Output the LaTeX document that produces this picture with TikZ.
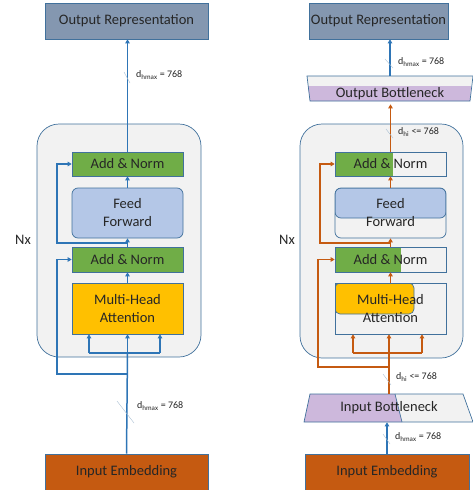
\documentclass[tikz,border=0pt]{standalone}
\usepackage{fontspec}
\setmainfont{Carlito}
\usetikzlibrary{arrows.meta}

\definecolor{edgeblue}{HTML}{41719C}
\definecolor{repblue}{HTML}{8497B0}
\definecolor{addgreen}{HTML}{70AD47}
\definecolor{ffblue}{HTML}{B4C7E7}
\definecolor{attyellow}{HTML}{FFC000}
\definecolor{embrown}{HTML}{C55A11}
\definecolor{bnpurple}{HTML}{CDB8DC}
\definecolor{paleg}{HTML}{F2F2F2}
\definecolor{flowblue}{HTML}{2E75B6}
\definecolor{floworange}{HTML}{C55A11}

\begin{document}
\begin{tikzpicture}[x=1pt, y=-1pt,
    box/.style={draw=edgeblue, line width=0.7pt, minimum width=111pt, inner sep=0pt, align=center, text=black!85, font=\fontsize{14.5}{18}\selectfont},
    wide/.style={box, minimum height=36pt},
    frame/.style={draw=edgeblue, line width=0.7pt, fill=paleg, rounded corners=22pt},
    bneck/.style={draw=edgeblue, line width=0.7pt},
    bline/.style={draw=flowblue, line width=1.5pt},
    oline/.style={draw=floworange, line width=1.5pt},
    tip/.style={-{Triangle[length=4pt,width=4.5pt]}},
    slash/.style={draw=edgeblue!45, line width=0.4pt},
    dim/.style={anchor=west, inner sep=0pt, text=black!85, font=\fontsize{10}{12}\selectfont},
    nx/.style={text=black!85, font=\fontsize{14.5}{18}\selectfont}]

        \useasboundingbox (0,0) rectangle (472,490);

        % left: full size encoder
        \draw[frame] (37,124) rectangle (201,357);
        \node[nx] (nxL) at (23,240) {Nx};

        \node[wide, fill=repblue, minimum width=163pt] (outL) at (126.5,21) {Output Representation};
        \node[box, fill=addgreen, minimum height=24pt] (addL1) at (127.5,164) {Add \& Norm};
        \node[box, fill=ffblue, minimum height=50pt, rounded corners=6pt] (ffL) at (127.5,213) {Feed\\Forward};
        \node[box, fill=addgreen, minimum height=25pt] (addL2) at (127.5,259.5) {Add \& Norm};
        \node[box, fill=attyellow, minimum height=51pt] (mhaL) at (127.5,308.5) {Multi-Head\\Attention};
        \node[wide, fill=embrown, minimum width=163pt] (inL) at (126.5,472) {Input Embedding};

        \coordinate (jL) at (127.5,353);
        \coordinate (qL) at (89,353);
        \coordinate (kL) at (160,353);
        \coordinate (rL1) at (127.5,243);
        \coordinate (rL2) at (127.5,374);

        \draw[bline] (inL.north) -- (jL);
        \draw[bline] (qL) -- (kL);
        \draw[bline,tip] (jL) -- (mhaL.south);
        \draw[bline,tip] (qL) -- (qL |- mhaL.south);
        \draw[bline,tip] (kL) -- (kL |- mhaL.south);
        \draw[bline,tip] (rL2) -- ++(-70.5,0) |- (addL2.west);
        \draw[bline,tip] (mhaL.north) -- (addL2.south);
        \draw[bline,tip] (addL2.north) -- (ffL.south);
        \draw[bline,tip] (rL1) -- ++(-70.5,0) |- (addL1.west);
        \draw[bline,tip] (ffL.north) -- (addL1.south);
        \draw[bline,tip] (addL1.north) -- (addL1.north |- outL.south);

        \draw[slash] (124,72) -- (130,83);
        \node[dim] (dL1) at (136,75) {d\textsubscript{hmax} = 768};
        \draw[slash] (117,401) -- (134,423);
        \node[dim] (dL2) at (137,406) {d\textsubscript{hmax} = 768};

        % right: encoder with bottlenecks
        \draw[frame] (300,124) rectangle (463,358);
        \node[nx] (nxR) at (287,240) {Nx};

        \node[wide, fill=repblue, minimum width=139pt] (outR) at (378.5,21) {Output Representation};

        \fill[paleg] (307,76) -- (472,76) -- (470,101) -- (310,101) -- cycle;
        \fill[bnpurple] (308,86) -- (471,86) -- (470,101) -- (310,101) -- cycle;
        \draw[bneck] (307,76) -- (473,76) -- (470,101) -- (310,101) -- cycle;
        \node[box, draw=none, minimum height=15pt] (obR) at (390,93.5) {Output Bottleneck};
        \coordinate (obtop) at (390,76);

        \node[box, fill=paleg, minimum height=24pt,
            path picture={\fill[addgreen] (path picture bounding box.south west) rectangle ([xshift=58pt]path picture bounding box.north west);}]
            (addR1) at (390.5,164) {Add \& Norm};
        \node[box, fill=paleg, minimum height=50pt, rounded corners=6pt,
            path picture={\draw[draw=edgeblue, line width=0.7pt, fill=ffblue, rounded corners=6pt] (path picture bounding box.north west) rectangle ([yshift=-30pt]path picture bounding box.north east);}]
            (ffR) at (390.5,213) {Feed\\Forward};
        \node[box, fill=paleg, minimum height=25pt,
            path picture={\fill[addgreen] (path picture bounding box.south west) rectangle ([xshift=66pt]path picture bounding box.north west);}]
            (addR2) at (390.5,259.5) {Add \& Norm};
        \node[box, fill=paleg, minimum height=51pt,
            path picture={\draw[draw=edgeblue, line width=0.7pt, fill=attyellow, rounded corners=5pt] (path picture bounding box.north west) rectangle ([xshift=79pt,yshift=-31pt]path picture bounding box.north west);}]
            (mhaR) at (390.5,308.5) {Multi-Head\\Attention};

        \fill[paleg] (310,394) -- (463,394) -- (472,422) -- (304,422) -- cycle;
        \fill[bnpurple] (310,394) -- (395,394) -- (402,422) -- (304,422) -- cycle;
        \draw[bneck] (310,394) -- (463,394) -- (473,422) -- (304,422) -- cycle;
        \draw[bneck] (395,394) -- (402,422);
        \node[box, draw=none, minimum height=28pt] (ibR) at (389,408) {Input Bottleneck};

        \node[wide, fill=embrown, minimum width=164pt] (inR) at (387,472) {Input Embedding};

        \coordinate (jR) at (389,353);
        \coordinate (qR) at (353,353);
        \coordinate (kR) at (422,353);
        \coordinate (rR1) at (390.5,243);
        \coordinate (rR2) at (389,367);

        \draw[bline,tip] (inR.north) -- (inR.north |- ibR.south);
        \draw[oline] (ibR.north) -- (jR);
        \draw[oline] (qR) -- (kR);
        \draw[oline,tip] (jR) -- (jR |- mhaR.south);
        \draw[oline,tip] (qR) -- (qR |- mhaR.south);
        \draw[oline,tip] (kR) -- (kR |- mhaR.south);
        \draw[oline,tip] (rR2) -- ++(-71,0) |- (addR2.west);
        \draw[oline,tip] (mhaR.north) -- (addR2.south);
        \draw[oline,tip] (addR2.north) -- (ffR.south);
        \draw[oline,tip] (rR1) -- ++(-70.5,0) |- (addR1.west);
        \draw[oline,tip] (ffR.north) -- (addR1.south);
        \draw[oline,tip] (addR1.north) -- ([yshift=-3pt]addR1.north |- obR.south);
        \draw[bline,tip] (obtop) -- (obtop |- outR.south);

        \draw[slash] (385,59) -- (393,68);
        \node[dim] (dR1) at (398,62) {d\textsubscript{hmax} = 768};
        \draw[slash] (386,129) -- (393,138);
        \node[dim] (dR2) at (398,132) {d\textsubscript{hi} <= 768};
        \draw[slash] (383,374) -- (391,385);
        \node[dim] (dR3) at (396,377) {d\textsubscript{hi} <= 768};
        \draw[slash] (383,434) -- (390,444);
        \node[dim] (dR4) at (395,437) {d\textsubscript{hmax} = 768};

    \end{tikzpicture}
\end{document}
